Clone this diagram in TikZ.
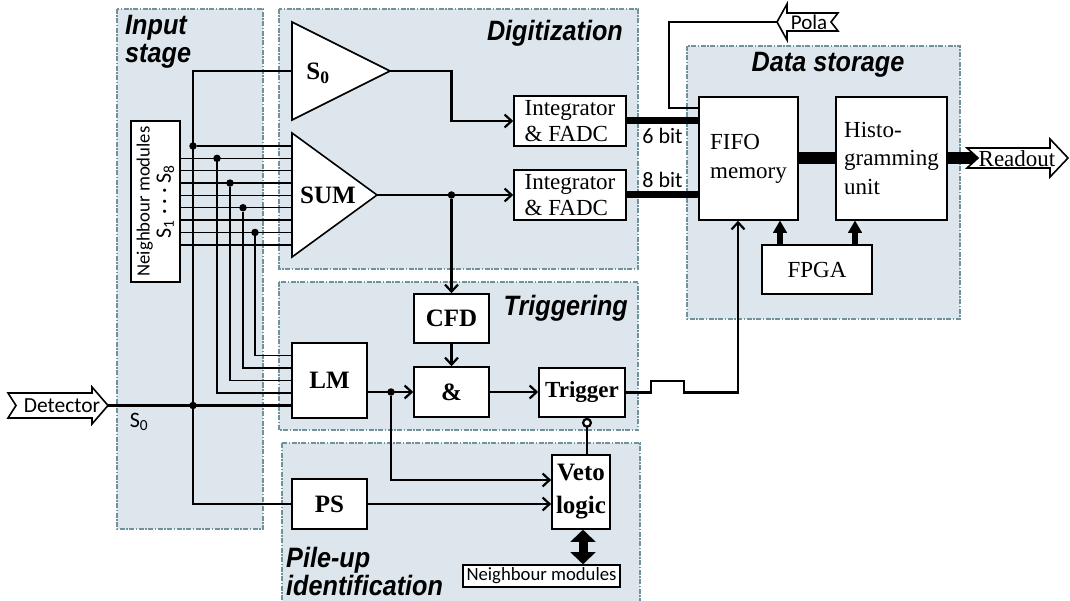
\documentclass[tikz,border=0pt]{standalone}
\usepackage{fontspec}
\setmainfont{Liberation Serif}
\newfontfamily\titlefont[FakeStretch=0.9]{Liberation Sans}
\newfontfamily\labelfont{Carlito}
\usetikzlibrary{positioning}
\usetikzlibrary{arrows.meta}
\usetikzlibrary{calc}
\definecolor{panelfill}{RGB}{221,230,236}
\definecolor{panelline}{RGB}{112,146,156}

\begin{document}
\begin{tikzpicture}
	[x=1pt,y=-1pt,
	panel/.style={draw=panelline,fill=panelfill,line width=1.1pt,dash pattern=on 5pt off 1.5pt on 1.5pt off 1.5pt},
	title/.style={font=\titlefont\bfseries\itshape\fontsize{28}{28.5}\selectfont,inner sep=0pt,align=left},
	block/.style={draw=black,fill=white,line width=1.6pt,inner sep=0pt,font=\fontsize{23}{27}\selectfont},
	bblock/.style={block,font=\bfseries\fontsize{25}{33}\selectfont},
	tag/.style={font=\labelfont\fontsize{18.7}{20}\selectfont,inner sep=0pt},
	amp/.style={draw=black,fill=white,line width=1.6pt},
	wire/.style={draw=black,line width=2.2pt},
	thinwire/.style={draw=black,line width=1.5pt},
	sig/.style={wire,-{Straight Barb[length=7pt,width=13pt]}},
	bus/.style={draw=black,line width=7pt},
	fatbus/.style={draw=black,line width=12pt},
	fatarrow/.style={draw=black,line width=6pt,-{Triangle[length=12pt,width=14pt,line width=0.01pt]}},
	dblarrow/.style={draw=black,line width=9pt,{Triangle[length=12pt,width=25pt,line width=0.01pt]}-{Triangle[length=12pt,width=25pt,line width=0.01pt]}},
	dot/.style={circle,fill=black,inner sep=0pt,minimum size=7.5pt},
	outarrow/.style={draw=black,fill=white,line width=1.6pt,line join=miter}]

	\useasboundingbox (0,0) rectangle (1070,601);

	% Draw the panels
	\draw[panel] (117,9) rectangle (263,529);
	\draw[panel] (279,9) rectangle (638,269);
	\draw[panel] (279,282) rectangle (638,430);
	\draw[panel] (282,443) rectangle (640,610);
	\draw[panel] (687,46) rectangle (960,319);

	\node[title,anchor=north west] (inputtitle) at (125,15) {Input\\stage};
	\node[title,anchor=base east] (digtitle) at (623,41) {Digitization};
	\node[title,anchor=base] (datatitle) at (828,72) {Data storage};
	\node[title,anchor=base east] (trigtitle) at (628,316) {Triggering};
	\node[title,anchor=north west] (piletitle) at (286,547) {Pile-up\\identification};

	% Draw the amplifiers
	\draw[amp] (292,22) -- (390,71) -- (292,120) -- cycle;
	\draw[amp] (292,133) -- (377,195) -- (292,257) -- cycle;
	\coordinate (s0in) at (292,71);
	\coordinate (s0out) at (390,71);
	\coordinate (sumin) at (292,195);
	\coordinate (sumout) at (377,195);
	\node[font=\bfseries\fontsize{25}{26}\selectfont] (s0name) at (318,73) {S\textsubscript{0}};
	\node[font=\bfseries\fontsize{25}{26}\selectfont] (sumname) at (328,195) {SUM};

	% Draw the blocks
	\node[block,rotate=90,minimum width=161pt,minimum height=49pt,align=center,font=\labelfont\fontsize{18.7}{21}\selectfont] (nbr) at (155.5,201.5) {Neighbour modules\\\fontsize{22}{22}\selectfont S\textsubscript{1} · · · S\textsubscript{8}};
	\node[block,minimum width=112pt,minimum height=50pt,align=left,font=\fontsize{23}{26}\selectfont] (intA) at (570,121) {Integrator\\\& FADC};
	\node[block,minimum width=112pt,minimum height=50pt,align=left,font=\fontsize{23}{26}\selectfont] (intB) at (570,195) {Integrator\\\& FADC};
	\node[block,minimum width=99pt,minimum height=123pt,align=left,font=\fontsize{23}{29}\selectfont] (fifo) at (748.5,158.5) {FIFO\\memory};
	\node[block,minimum width=111pt,minimum height=123pt,align=left,font=\fontsize{23}{29}\selectfont] (histo) at (891.5,158.5) {Histo-\\gramming\\unit};
	\node[block,minimum width=110pt,minimum height=49pt] (fpga) at (817,269.5) {FPGA};
	\node[bblock,minimum width=75pt,minimum height=75pt] (lm) at (329.5,380.5) {LM};
	\node[bblock,minimum width=75pt,minimum height=49pt] (cfd) at (451.5,318.5) {CFD};
	\node[bblock,minimum width=75pt,minimum height=50pt] (and) at (451.5,392) {\&};
	\node[bblock,minimum width=86pt,minimum height=49pt,font=\bfseries\fontsize{23}{26}\selectfont] (trig) at (582,392.5) {Trigger};
	\node[bblock,minimum width=75pt,minimum height=50pt] (ps) at (329.5,504) {PS};
	\node[bblock,minimum width=58pt,minimum height=74pt,align=center] (veto) at (581,492) {Veto\\logic};
	\node[block,minimum width=157pt,minimum height=22pt,font=\labelfont\fontsize{18.7}{20}\selectfont] (nbm) at (541.5,576) {Neighbour modules};

	% Draw the in- and outgoing arrows
	\draw[outarrow] (8,393) -- (92,393) -- (92,387) -- (108,405.5) -- (92,424) -- (92,418) -- (8,418) -- (16,405.5) -- cycle;
	\coordinate (dettip) at (108,405.5);
	\node[tag,font=\labelfont\fontsize{21.5}{21}\selectfont] (dettext) at (62,405.5) {Detector};
	\draw[outarrow] (838,13) -- (787,13) -- (787,4) -- (777,22) -- (787,40) -- (787,31) -- (838,31) -- (831,22) -- cycle;
	\coordinate (polatip) at (777,22);
	\node[tag,font=\labelfont\fontsize{21}{21}\selectfont] (polatext) at (809,22) {Pola};
	\coordinate (readtail) at (978,158);
	\draw[fatbus] (histo.east |- readtail) -- (readtail);
	\draw[outarrow] (967,148) -- (1050,148) -- (1050,139) -- (1068,158) -- (1050,177) -- (1050,168) -- (967,168) -- (978,158) -- cycle;
	\node[font=\fontsize{23}{23}\selectfont,inner sep=0pt] (readtext) at (1017,159) {Readout};

	% Draw the input stage wiring
	\foreach \i [evaluate=\i as \busy using 146+12.35*\i] in {1,...,8}
		\draw[thinwire] (nbr.south |- 0,\busy) -- (sumin |- 0,\busy);
	\coordinate (s0bus) at (193,71);
	\draw[wire] (s0in) -- (s0bus) |- (ps.west);
	\node[dot] (s0top) at (193,146) {};
	\draw[thinwire] (s0top) -- (sumin |- s0top);
	\draw[wire] (dettip) -- (lm.west |- dettip);
	\node[dot] (s0mid) at (s0bus |- dettip) {};
	\node[tag,font=\labelfont\fontsize{22}{22}\selectfont] (s0tag) at (139,422) {S\textsubscript{0}};
	\foreach \i/\tx/\ly in {1/217/393,3/230/380.5,5/243/368,7/255/355.5}
	{
		\node[dot] (tap\i) at (\tx,{146+12.35*\i}) {};
		\draw[thinwire] (tap\i) |- (lm.west |- 0,\ly);
	}

	% Draw the digitization links
	\draw[sig] (s0out) -| (cfd.north |- intA.west) -- (intA.west);
	\draw[sig] (sumout) -- (intB.west);
	\node[dot] (sumtap) at (cfd.north |- intB.west) {};
	\draw[sig] (sumtap) -- (cfd.north);
	\draw[bus] (intA.east) -- node[tag,below=4pt,font=\labelfont\fontsize{22}{22}\selectfont] (bitA) {6 bit} (fifo.west |- intA.east);
	\draw[bus] (intB.east) -- node[tag,above=4pt,font=\labelfont\fontsize{22}{22}\selectfont] (bitB) {8 bit} (fifo.west |- intB.east);

	% Draw the data storage links
	\coordinate (polabend) at (669,108);
	\draw[wire] (polatip) -| (polabend) -- (fifo.west |- polabend);
	\draw[fatbus] (fifo.east) -- (histo.west);
	\draw[fatarrow] (fpga.north -| 780,0) -- (fifo.south -| 780,0);
	\draw[fatarrow] (fpga.north -| 855,0) -- (histo.south -| 855,0);

	% Draw the triggering links
	\draw[sig] (cfd) -- (and);
	\draw[sig] (lm.east |- and.west) -- (and.west);
	\node[dot] (lmtap) at (391,392) {};
	\draw[sig] (and.east) -- (trig.west |- and.east);
	\draw[sig] (trig.east) -- ++(25,0) -- ++(0,-11.5) -- ++(33,0) -- ++(0,11.5) -| ([xshift=-10.5pt]fifo.south);

	% Draw the pile-up links
	\draw[sig] (lmtap) |- (veto.west |- 0,480);
	\draw[sig] (ps.east) -- (veto.west |- ps.east);
	\draw[wire,-{Circle[fill=white,length=10pt]}] ([xshift=6pt]veto.north) -- ([xshift=6pt]veto.north |- trig.south);
	\draw[dblarrow] ([xshift=2pt]veto.south) -- ([xshift=2pt]veto.south |- nbm.north);
\end{tikzpicture}
\end{document}
